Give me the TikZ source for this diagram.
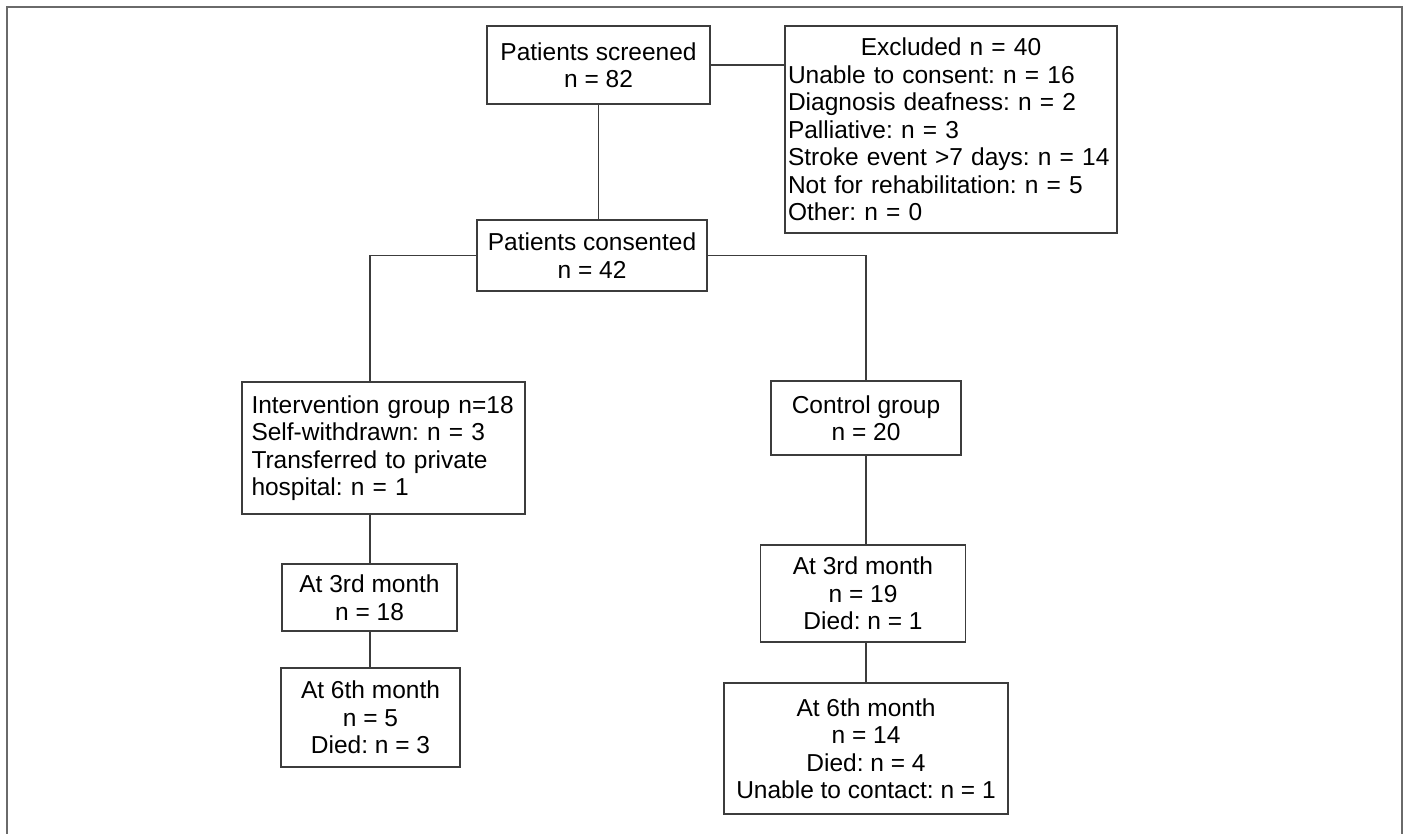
\documentclass[tikz,border=0pt]{standalone}
\usepackage{fontspec}
\setmainfont{Liberation Sans}
\usepackage{tikz}
\definecolor{boxline}{HTML}{3C3C3C}
\definecolor{framegray}{HTML}{6A6A6A}
\frenchspacing

\begin{document}
\begin{tikzpicture}[x = 0.5pt, y = -0.5pt,
	box/.style = {draw = boxline, line width = 0.75pt, inner sep = 0pt, align = center, font = \fontsize{12.25}{13.75}\selectfont},
	link/.style = {draw = boxline, line width = 0.75pt}]
	\useasboundingbox (0,0) rectangle (1407,834);
	\draw [framegray, line width = 1pt] (7,834) -- (7,7) -- (1402,7) -- (1402,834);

	\node [box, minimum width = 111.5pt, minimum height = 39pt] (screen) at (598.5,65) {Patients screened\\n = 82};
	\node [box, align = left, text width = 163pt, minimum width = 166pt, minimum height = 103.5pt] (excl) at (951,129.5) {\makebox[163pt]{Excluded n = 40}\\Unable to consent: n = 16\\Diagnosis deafness: n = 2\\Palliative: n = 3\\Stroke event >7 days: n = 14\\Not for rehabilitation: n = 5\\Other: n = 0};
	\node [box, minimum width = 115pt, minimum height = 35.5pt] (consent) at (592,255.5) {Patients consented\\n = 42};
	\node [box, align = left, text width = 132pt, minimum width = 141.5pt, minimum height = 66pt] (interv) at (383.5,448) {Intervention group n=18\\Self-withdrawn: n = 3\\Transferred to private\\hospital: n = 1};
	\node [box, minimum width = 95pt, minimum height = 37pt] (control) at (866,418) {Control group\\n = 20};
	\node [box, minimum width = 87.5pt, minimum height = 33.5pt] (m3L) at (369.5,597.5) {At 3rd month\\n = 18};
	\node [box, minimum width = 89.5pt, minimum height = 49.5pt] (m6L) at (370.5,717.5) {At 6th month\\n = 5\\Died: n = 3};
	\node [box, minimum width = 102.5pt, minimum height = 48.5pt] (m3R) at (863,593.5) {At 3rd month\\n = 19\\Died: n = 1};
	\node [box, minimum width = 142pt, minimum height = 65.5pt] (m6R) at (866,748.5) {At 6th month\\n = 14\\Died: n = 4\\Unable to contact: n = 1};

	\coordinate (lcol) at (370,0);
	\coordinate (rcol) at (866,0);
	\draw [link] (screen.east) -- (screen.east -| excl.west);
	\draw [link] (screen.south) -- (screen.south |- consent.north);
	\draw [link] (consent.west) -| (lcol |- interv.north);
	\draw [link] (consent.east) -| (rcol |- control.north);
	\draw [link] (lcol |- interv.south) -- (lcol |- m3L.north);
	\draw [link] (lcol |- m3L.south) -- (lcol |- m6L.north);
	\draw [link] (rcol |- control.south) -- (rcol |- m3R.north);
	\draw [link] (rcol |- m3R.south) -- (rcol |- m6R.north);
\end{tikzpicture}
\end{document}
